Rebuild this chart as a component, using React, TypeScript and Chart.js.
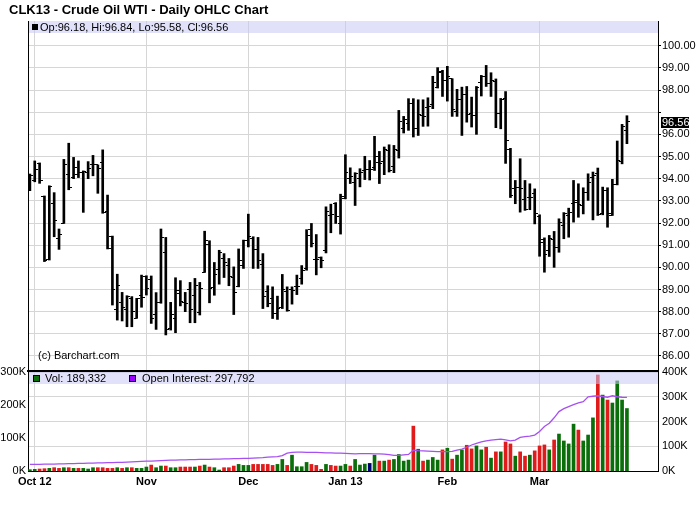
import React, { useEffect, useRef } from "react";
import { Chart, registerables } from "chart.js";

Chart.register(...registerables);

const FONT = '"Liberation Sans", Arial, Helvetica, sans-serif';

const titleText = "CLK13 - Crude Oil WTI - Daily OHLC Chart";
const copyrightText = "(c) Barchart.com";

// x positions are trading-day indexes (0 = first bar, late Sep 2012)
const monthTickIndex = [1, 24, 45, 65, 86, 105];
const monthTickLabels = ["Oct 12", "Nov", "Dec", "Jan 13", "Feb", "Mar"];
const priceTickValues = [86, 87, 88, 89, 90, 91, 92, 93, 94, 95, 96, 97, 98, 99, 100];
const volTickValues = [0, 100, 200, 300];
const oiTickValues = [0, 100, 200, 300, 400];

const opens = [
  94.0, 93.9, 94.7, 93.2, 90.36, 92.89, 91.3, 92.0, 94.21, 94.05,
  94.2, 94.27, 94.29, 94.62, 94.62, 94.74, 92.52, 91.38, 88.1, 88.41,
  88.08, 88.6, 87.7, 88.75, 89.58, 89.46, 87.89, 88.42, 90.68, 87.25,
  87.7, 88.83, 88.42, 88.98, 88.75, 87.95, 89.77, 91.03, 89.1, 89.9,
  90.4, 90.08, 89.53, 89.15, 90.1, 91.23, 91.3, 90.82, 90.14, 88.89,
  88.59, 87.92, 88.2, 88.89, 89.0, 89.12, 89.5, 89.95, 91.71, 90.37,
  90.43, 90.77, 92.35, 92.88, 91.98, 93.09, 94.0, 93.85, 94.0, 94.37,
  94.4, 94.52, 94.72, 94.78, 95.28, 94.55, 95.28, 96.28, 96.48, 97.41,
  96.28, 96.83, 97.23, 97.34, 98.1, 98.84, 98.44, 98.51, 97.01, 97.58,
  97.8, 96.93, 96.86, 98.36, 98.62, 98.29, 98.4, 96.95, 97.6, 95.33,
  93.55, 93.6, 93.05, 93.14, 93.32, 92.29, 91.24, 90.76, 91.24, 90.91,
  91.89, 92.34, 92.87, 93.02, 92.79, 93.39, 94.07, 94.25, 92.41, 93.47,
  92.34, 93.72, 94.78, 96.18,
];
const highs = [
  94.21, 94.8, 94.71, 93.22, 93.68, 93.37, 91.73, 94.87, 95.6, 94.96,
  94.8, 94.35, 94.77, 95.05, 94.62, 95.3, 93.26, 91.41, 89.69, 88.87,
  88.72, 88.68, 88.6, 89.65, 89.62, 89.61, 88.86, 91.73, 91.35, 88.42,
  89.53, 89.4, 88.87, 89.32, 89.5, 89.32, 91.63, 91.2, 90.22, 90.77,
  90.62, 90.4, 90.02, 90.83, 91.23, 92.4, 91.38, 91.35, 90.62, 89.17,
  89.12, 88.7, 89.68, 89.12, 89.12, 89.65, 90.08, 91.7, 91.98, 91.48,
  90.47, 92.73, 92.85, 92.92, 93.3, 95.08, 94.49, 94.27, 94.45, 95.01,
  94.82, 95.91, 95.23, 95.43, 95.53, 95.5, 97.08, 96.81, 97.61, 97.61,
  97.56, 97.56, 97.65, 98.62, 99.01, 98.89, 99.07, 98.51, 98.03, 98.13,
  98.16, 97.68, 98.16, 98.66, 99.11, 98.78, 98.5, 97.62, 97.93, 95.37,
  93.92, 94.9, 93.92, 93.77, 93.54, 92.37, 91.33, 91.44, 91.62, 92.19,
  92.47, 92.67, 93.92, 93.77, 93.59, 94.22, 94.3, 94.48, 93.62, 93.59,
  93.97, 95.7, 96.45, 96.84,
];
const lows = [
  93.46, 93.86, 93.79, 90.26, 90.33, 91.38, 90.81, 91.98, 93.5, 94.0,
  94.05, 92.48, 94.0, 94.13, 93.34, 92.44, 90.83, 88.3, 87.62, 87.58,
  87.32, 87.32, 87.7, 88.2, 88.75, 87.47, 87.2, 88.38, 86.95, 87.17,
  87.05, 88.26, 88.0, 87.5, 87.5, 87.85, 89.77, 88.4, 88.74, 89.24,
  89.54, 89.17, 87.87, 89.12, 89.95, 90.92, 89.95, 89.95, 88.14, 88.22,
  87.69, 87.65, 88.14, 88.02, 88.34, 88.77, 89.24, 89.87, 90.92, 89.66,
  89.98, 90.65, 91.56, 91.98, 91.5, 93.09, 93.78, 92.79, 93.63, 93.96,
  93.94, 94.37, 93.78, 94.18, 94.3, 94.27, 94.93, 96.06, 96.18, 95.88,
  95.95, 96.36, 96.37, 97.16, 98.09, 97.71, 97.5, 96.81, 96.81, 95.95,
  96.55, 96.33, 96.0, 97.73, 98.16, 97.71, 96.3, 96.25, 94.69, 93.15,
  92.87, 92.49, 92.57, 92.6, 91.96, 90.5, 89.78, 90.49, 90.0, 90.68,
  91.29, 91.36, 92.04, 92.26, 92.41, 93.02, 92.14, 92.34, 92.37, 91.81,
  92.34, 93.72, 94.67, 95.58,
];
const closes = [
  94.15, 94.42, 93.94, 90.33, 93.66, 92.12, 91.5, 94.62, 93.58, 94.5,
  94.3, 94.33, 94.47, 94.62, 94.47, 92.48, 90.86, 88.98, 89.17, 88.18,
  88.68, 88.03, 88.6, 88.63, 89.06, 87.7, 88.41, 91.35, 87.2, 87.89,
  88.95, 88.45, 88.38, 88.08, 89.18, 89.06, 91.23, 89.05, 89.68, 90.65,
  90.2, 89.57, 88.86, 90.32, 91.23, 91.38, 90.82, 90.32, 88.7, 88.37,
  87.92, 88.14, 89.0, 88.04, 88.97, 89.12, 89.87, 91.45, 91.08, 90.37,
  90.32, 92.5, 92.4, 92.28, 93.18, 94.3, 94.12, 94.22, 94.3, 94.4,
  94.4, 95.01, 94.67, 95.31, 94.37, 95.31, 96.58, 96.65, 97.38, 96.25,
  96.89, 96.8, 97.26, 98.33, 98.78, 98.44, 98.63, 97.11, 97.58, 97.79,
  96.9, 96.86, 98.1, 98.62, 98.3, 98.44, 96.95, 97.58, 95.7, 93.25,
  93.6, 93.54, 92.6, 93.14, 92.44, 91.13, 90.58, 91.29, 90.91, 92.04,
  92.41, 92.49, 92.94, 92.84, 93.39, 93.81, 94.15, 92.38, 93.47, 92.44,
  93.72, 94.82, 96.36, 96.56,
];
// volume, thousands of contracts
const volumeK = [
  4, 5, 6, 7, 8, 10, 8, 10, 10, 8,
  8, 8, 6, 10, 10, 10, 8, 8, 10, 8,
  10, 10, 8, 8, 12, 18, 10, 15, 15, 10,
  10, 12, 12, 12, 12, 15, 18, 12, 10, 3,
  10, 10, 15, 20, 17, 17, 20, 20, 20, 20,
  17, 20, 35, 17, 48, 13, 13, 26, 20, 17,
  5, 20, 17, 15, 15, 20, 15, 35, 18, 21,
  23, 48, 30, 30, 33, 35, 50, 30, 33, 136,
  66, 30, 33, 41, 33, 64, 69, 36, 48, 64,
  78, 67, 76, 64, 72, 39, 58, 58, 88, 82,
  45, 58, 45, 48, 61, 76, 79, 64, 94, 112,
  91, 82, 142, 124, 91, 109, 161, 291, 230, 215,
  206, 273, 215, 189.332,
];
// open interest, thousands of contracts
const openInterestK = [
  27, 27, 27, 28, 28, 28, 29, 29, 30, 30,
  31, 31, 32, 32, 33, 33, 34, 34, 35, 35,
  36, 37, 38, 39, 40, 40, 41, 42, 43, 44,
  44, 45, 45, 46, 46, 47, 47, 47, 48, 48,
  49, 49, 50, 50, 51, 51, 52, 53, 54, 56,
  57, 58, 62, 72, 75, 76, 76, 75, 75, 75,
  74, 73, 73, 72, 72, 71, 70, 69, 70, 70,
  70, 69, 69, 68, 66, 63, 63, 65, 67, 84,
  82, 81, 80, 79, 78, 78, 78, 79, 84, 88,
  96, 105, 112, 118, 122, 125, 127, 129, 126, 122,
  125, 136, 139, 141, 145, 160, 180, 193, 215, 240,
  252, 260, 268, 275, 280, 300, 302, 304, 301, 298,
  304, 300, 298, 297.792,
];

const X_MIN = -0.39;
const X_MAX = 129.4;
const PRICE_MIN = 85.323;
const PRICE_MAX = 101.114;

const GRID = "#d6d6d6";
const BAND = "rgba(200,200,245,0.55)";
const UP = "#0a6e0a";
const DOWN = "#e01b1b";
const FLAT = "#000070";
const OI_COLOR = "#a650f0";

const zeroPad = (s: any) => {
  s.paddingTop = 0;
  s.paddingBottom = 0;
  s.paddingLeft = 0;
  s.paddingRight = 0;
};

export default function App() {
  const mainRef = useRef<HTMLCanvasElement>(null);
  const volRef = useRef<HTMLCanvasElement>(null);

  useEffect(() => {
    Chart.defaults.font.family = FONT;
    Chart.defaults.color = "#000";
    const n = closes.length;
    const idx = Array.from({ length: n }, (_, i) => i);
    const last = n - 1;

    const mkTick = (side: string) => {
      const c = document.createElement("canvas");
      c.width = 6;
      c.height = 1;
      const g = c.getContext("2d")!;
      g.fillStyle = "#000";
      if (side === "l") g.fillRect(0, 0, 3, 1);
      else g.fillRect(3, 0, 3, 1);
      return c;
    };
    const openTick = mkTick("l");
    const closeTick = mkTick("r");

    const lastClose = closes[last];
    const fmtK = (v: number) => Math.round(v * 1000).toLocaleString("en-US");

    const xScaleBase = (showLabels: boolean, height: number) => ({
      type: "linear" as const,
      min: X_MIN,
      max: X_MAX,
      offset: false,
      afterBuildTicks: (s: any) => {
        s.ticks = monthTickIndex.map((v) => ({ value: v }));
      },
      afterFit: (s: any) => {
        s.height = height;
        zeroPad(s);
      },
      ticks: {
        display: showLabels,
        autoSkip: false,
        maxRotation: 0,
        padding: 4,
        font: { size: 11, weight: "bold" as const },
        color: "#000",
        callback: (v: any) => {
          const k = monthTickIndex.indexOf(Number(v));
          return k >= 0 ? monthTickLabels[k] : "";
        },
      },
      grid: { color: GRID, drawTicks: false, offset: false },
    });

    const mainOverlay = {
      id: "mainOverlay",
      afterDatasetsDraw(chart: any) {
        const { ctx, chartArea: a } = chart;
        ctx.save();
        ctx.fillStyle = BAND;
        ctx.fillRect(a.left + 1, a.top, a.right - a.left - 1, 12);
        ctx.fillStyle = "#000";
        ctx.fillRect(a.left + 4, a.top + 3, 6, 6);
        ctx.font = `11px ${FONT}`;
        ctx.textBaseline = "middle";
        ctx.textAlign = "left";
        ctx.fillText(
          `Op:${opens[last].toFixed(2)}, Hi:${highs[last].toFixed(2)}, Lo:${lows[last].toFixed(2)}, Cl:${closes[last].toFixed(2)}`,
          a.left + 12,
          a.top + 6.5
        );
        ctx.fillText(copyrightText, a.left + 10, a.bottom - 15);
        ctx.restore();
      },
      afterDraw(chart: any) {
        const { ctx, chartArea: a } = chart;
        ctx.save();
        ctx.font = `bold 13px ${FONT}`;
        ctx.fillStyle = "#000";
        ctx.textBaseline = "middle";
        ctx.textAlign = "left";
        ctx.fillText(titleText, 9, 10);
        const y = chart.scales.y.getPixelForValue(lastClose);
        ctx.fillStyle = "#000";
        ctx.fillRect(a.right + 3, Math.round(y) - 5, 28, 11);
        ctx.fillStyle = "#fff";
        ctx.font = `11px ${FONT}`;
        ctx.fillText(lastClose.toFixed(2), a.right + 4, Math.round(y) + 0.5);
        ctx.restore();
      },
    };

    const main = new Chart(mainRef.current!, {
      type: "bar",
      data: {
        datasets: [
          {
            type: "bar",
            data: idx.map((i) => ({ x: i, y: [lows[i], highs[i]] })) as any,
            backgroundColor: "#000",
            borderWidth: 0,
            barThickness: 2,
            grouped: false,
            yAxisID: "y",
            order: 2,
          },
          {
            type: "line",
            data: idx.map((i) => ({ x: i, y: opens[i] })),
            showLine: false,
            pointStyle: openTick as any,
            pointRadius: 3,
            yAxisID: "y",
            order: 1,
          },
          {
            type: "line",
            data: idx.map((i) => ({ x: i, y: closes[i] })),
            showLine: false,
            pointStyle: closeTick as any,
            pointRadius: 3,
            yAxisID: "y",
            order: 1,
          },
        ] as any,
      },
      options: {
        responsive: false,
        animation: false,
        events: [],
        layout: { autoPadding: false, padding: { top: 21, bottom: 1, left: 0, right: 0 } },
        plugins: {
          legend: { display: false },
          tooltip: { enabled: false },
          title: { display: false },
        },
        scales: {
          x: {
            ...xScaleBase(false, 0),
            border: { display: true, color: "#000", width: 2 },
          } as any,
          yl: {
            position: "left",
            ticks: { display: false },
            grid: { display: false, drawTicks: false },
            border: { display: true, color: "#000", width: 1 },
            afterFit: (s: any) => {
              s.width = 28;
              zeroPad(s);
            },
          } as any,
          y: {
            position: "right",
            min: PRICE_MIN,
            max: PRICE_MAX,
            afterBuildTicks: (s: any) => {
              s.ticks = priceTickValues.map((v) => ({ value: v }));
            },
            afterFit: (s: any) => {
              s.width = 42;
              zeroPad(s);
            },
            ticks: {
              padding: 1,
              font: { size: 11 },
              color: "#000",
              callback: (v: any) =>
                Math.abs(Number(v) - lastClose) < 0.5 ? "" : Number(v).toFixed(2),
            },
            grid: { color: GRID, tickColor: "#000", tickLength: 3, drawTicks: true },
            border: { display: true, color: "#000", width: 1 },
          } as any,
        },
      },
      plugins: [mainOverlay],
    });

    const volColors = idx.map((i) => {
      if (i === 0) return UP;
      if (closes[i] > closes[i - 1]) return UP;
      if (closes[i] < closes[i - 1]) return DOWN;
      return FLAT;
    });

    const volOverlay = {
      id: "volOverlay",
      afterDatasetsDraw(chart: any) {
        const { ctx, chartArea: a } = chart;
        ctx.save();
        ctx.fillStyle = BAND;
        ctx.fillRect(a.left + 1, a.top, a.right - a.left - 1, 12);
        ctx.fillStyle = UP;
        ctx.fillRect(a.left + 5, a.top + 3, 7, 7);
        ctx.strokeStyle = "#000";
        ctx.lineWidth = 1;
        ctx.strokeRect(a.left + 5.5, a.top + 3.5, 6, 6);
        ctx.fillStyle = "#9900ff";
        ctx.fillRect(a.left + 101, a.top + 3, 7, 7);
        ctx.strokeRect(a.left + 101.5, a.top + 3.5, 6, 6);
        ctx.fillStyle = "#000";
        ctx.font = `11px ${FONT}`;
        ctx.textBaseline = "middle";
        ctx.textAlign = "left";
        ctx.fillText(`Vol: ${fmtK(volumeK[last])}`, a.left + 17, a.top + 7);
        ctx.fillText(`Open Interest: ${fmtK(openInterestK[last])}`, a.left + 114, a.top + 7);
        ctx.restore();
      },
    };

    const vol = new Chart(volRef.current!, {
      type: "bar",
      data: {
        datasets: [
          {
            type: "line",
            data: idx.map((i) => ({ x: i, y: openInterestK[i] })),
            borderColor: OI_COLOR,
            borderWidth: 1.3,
            pointRadius: 0,
            tension: 0,
            yAxisID: "yo",
            order: 1,
          },
          {
            type: "bar",
            data: idx.map((i) => ({ x: i, y: volumeK[i] })),
            backgroundColor: volColors,
            borderWidth: 0,
            barThickness: 3,
            grouped: false,
            yAxisID: "yv",
            order: 2,
          },
        ] as any,
      },
      options: {
        responsive: false,
        animation: false,
        events: [],
        layout: { autoPadding: false, padding: { top: 12, bottom: 0, left: 0, right: 0 } },
        plugins: {
          legend: { display: false },
          tooltip: { enabled: false },
          title: { display: false },
        },
        scales: {
          x: {
            ...xScaleBase(true, 41),
            border: { display: true, color: "#000", width: 1 },
          } as any,
          yv: {
            position: "left",
            min: 0,
            max: 300,
            afterBuildTicks: (s: any) => {
              s.ticks = volTickValues.map((v) => ({ value: v }));
            },
            afterFit: (s: any) => {
              s.width = 28;
              zeroPad(s);
            },
            ticks: { padding: 2, font: { size: 11 }, color: "#000", callback: (v: any) => `${v}K` },
            grid: { display: false, drawTicks: false },
            border: { display: true, color: "#000", width: 1 },
          } as any,
          yo: {
            position: "right",
            min: 0,
            max: 400,
            afterBuildTicks: (s: any) => {
              s.ticks = oiTickValues.map((v) => ({ value: v }));
            },
            afterFit: (s: any) => {
              s.width = 42;
              zeroPad(s);
            },
            ticks: { padding: 4, font: { size: 11 }, color: "#000", callback: (v: any) => `${v}K` },
            grid: { color: GRID, drawTicks: false },
            border: { display: true, color: "#000", width: 1 },
          } as any,
        },
      },
      plugins: [volOverlay],
    });

    return () => {
      main.destroy();
      vol.destroy();
    };
  }, []);

  return (
    <div
      style={{
        position: "absolute",
        left: 0,
        top: 0,
        width: 700,
        height: 512,
        background: "#fff",
        overflow: "hidden",
      }}
    >
      <canvas ref={mainRef} width={700} height={372} style={{ position: "absolute", left: 0, top: 0 }} />
      <canvas ref={volRef} width={700} height={152} style={{ position: "absolute", left: 0, top: 360 }} />
    </div>
  );
}
